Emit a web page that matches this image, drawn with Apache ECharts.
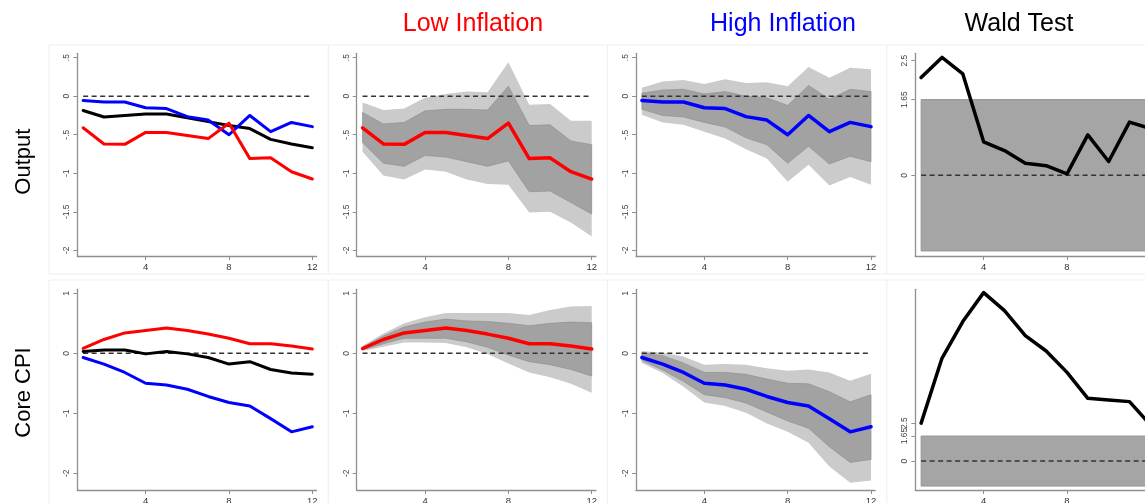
<!DOCTYPE html>
<html><head><meta charset="utf-8">
<script src="https://cdn.jsdelivr.net/npm/echarts@6/dist/echarts.min.js"></script>
<style>html,body{margin:0;padding:0;background:#fff}#c{width:1145px;height:503px}</style>
</head><body><div id="c"></div>
<script>
// ---------------- data ----------------
const horizons = [1,2,3,4,5,6,7,8,9,10,11,12];
const colTitles = ['Low Inflation','High Inflation','Wald Test'];
const rowTitles = ['Output','Core CPI'];
const xTicks = [4,8,12];
const yTicksOutput = [-2,-1.5,-1,-0.5,0,0.5];
const yTicksCPI = [-2,-1,0,1];
const yTicksWald = [0,1.65,2.5];
const waldCritical = 1.65;

// Output responses
const outAll  = [-0.185,-0.27,-0.25,-0.23,-0.23,-0.28,-0.33,-0.38,-0.42,-0.56,-0.62,-0.67];
const outLow  = [-0.41,-0.62,-0.625,-0.47,-0.47,-0.51,-0.55,-0.35,-0.81,-0.80,-0.98,-1.075];
const outHigh = [-0.055,-0.075,-0.075,-0.15,-0.16,-0.265,-0.31,-0.50,-0.25,-0.46,-0.34,-0.395];
const outLowOuterLo = [-0.72,-1.03,-1.08,-0.95,-0.98,-1.08,-1.14,-1.15,-1.51,-1.50,-1.64,-1.82];
const outLowOuterHi = [-0.08,-0.18,-0.16,-0.02,0.03,0.06,0.05,0.44,-0.11,-0.10,-0.32,-0.32];
const outLowInnerLo = [-0.60,-0.87,-0.91,-0.77,-0.79,-0.85,-0.91,-0.84,-1.24,-1.23,-1.38,-1.53];
const outLowInnerHi = [-0.21,-0.36,-0.34,-0.19,-0.17,-0.17,-0.18,0.13,-0.38,-0.37,-0.58,-0.63];
const outHighOuterLo = [-0.24,-0.34,-0.37,-0.46,-0.55,-0.69,-0.81,-1.11,-0.89,-1.16,-1.05,-1.15];
const outHighOuterHi = [0.11,0.19,0.21,0.16,0.22,0.17,0.18,0.13,0.38,0.24,0.37,0.35];
const outHighInnerLo = [-0.17,-0.25,-0.27,-0.34,-0.40,-0.54,-0.63,-0.87,-0.65,-0.88,-0.78,-0.85];
const outHighInnerHi = [0.04,0.08,0.09,0.03,0.06,0.00,-0.02,-0.12,0.14,-0.04,0.09,0.06];

// Core CPI responses
const cpiAll  = [0.03,0.055,0.055,-0.01,0.03,-0.01,-0.07,-0.18,-0.14,-0.27,-0.33,-0.35];
const cpiLow  = [0.08,0.23,0.34,0.38,0.42,0.38,0.32,0.25,0.16,0.16,0.12,0.07];
const cpiHigh = [-0.07,-0.18,-0.32,-0.50,-0.53,-0.60,-0.72,-0.82,-0.88,-1.09,-1.31,-1.225];
const cpiLowOuterLo = [0.04,0.11,0.18,0.18,0.17,0.10,-0.01,-0.17,-0.32,-0.40,-0.51,-0.66];
const cpiLowOuterHi = [0.12,0.33,0.50,0.60,0.67,0.67,0.67,0.67,0.64,0.72,0.78,0.79];
const cpiLowInnerLo = [0.055,0.16,0.25,0.25,0.25,0.19,0.10,-0.03,-0.14,-0.19,-0.27,-0.38];
const cpiLowInnerHi = [0.10,0.29,0.44,0.52,0.57,0.54,0.53,0.50,0.46,0.50,0.52,0.51];
const cpiHighOuterLo = [-0.16,-0.33,-0.56,-0.82,-0.88,-0.99,-1.17,-1.31,-1.49,-1.89,-2.16,-2.12];
const cpiHighOuterHi = [0.04,0.01,-0.055,-0.19,-0.18,-0.19,-0.25,-0.29,-0.27,-0.32,-0.46,-0.34];
const cpiHighInnerLo = [-0.12,-0.28,-0.47,-0.69,-0.74,-0.83,-0.98,-1.13,-1.25,-1.56,-1.82,-1.77];
const cpiHighInnerHi = [0.01,-0.04,-0.16,-0.32,-0.32,-0.35,-0.43,-0.50,-0.51,-0.64,-0.81,-0.69];

// Wald statistics
const waldOutput = [2.13,2.57,2.21,0.73,0.54,0.26,0.21,0.03,0.88,0.30,1.16,1.02];
const waldCPI    = [2.5,6.78,9.2,11.11,9.92,8.27,7.26,5.85,4.14,4.03,3.92,2.4];

// ---------------- chart ----------------
const FONT = '"Liberation Sans", Arial, Helvetica, sans-serif';
const RED = '#ff0000', BLUE = '#0000ff', BLACK = '#000000';
const colX = [77.3, 356.7, 636.0, 915.3];
const plotW = 239.2;
const rowsGeom = [{top:53.3, height:202.7}, {top:289.3, height:200.7}];
const yRangeIRF = [[-2.074, 0.557], [-2.28, 1.067]];
const yRangeWald = [[-1.76, 2.66], [-1.91, 11.33]];

const pts = arr => horizons.map((h,i)=>[h, arr[i]]);
const zeros = horizons.map(h=>[h,0]);

const grids=[], xAxes=[], yAxes=[], series=[];
const fmt = v => v===0 ? '0' : String(v).replace(/^(-?)0\./,'$1.');

function yAxisDef(gi, yTicks, yRange, showLine){
  return {type:'value', gridIndex:gi, min:yRange[0], max:yRange[1], position:'left', offset:0,
    axisLine:{show:showLine, onZero:false, lineStyle:{color:'#8f8f8f', width:1.3}},
    axisTick:{show:true, length:4, customValues:yTicks, lineStyle:{color:'#8f8f8f', width:1}},
    axisLabel:{customValues:yTicks, rotate:90, margin:6, fontSize:8.5, color:'#444', fontFamily:FONT,
      formatter:fmt, hideOverlap:false, interval:0},
    splitLine:{show:false}};
}
function addPanel(row, col, yTicks, yRange){
  const gi = grids.length;
  grids.push({left: colX[col], top: rowsGeom[row].top, width: plotW, height: rowsGeom[row].height,
    outerBoundsMode:'none', containLabel:false});
  xAxes.push({type:'value', gridIndex:gi, min:0.72, max:12.2,
    axisLine:{onZero:false, lineStyle:{color:'#8f8f8f', width:1.3}},
    axisTick:{show:true, length:4, customValues:xTicks, lineStyle:{color:'#8f8f8f', width:1}},
    axisLabel:{customValues:xTicks, margin:6, fontSize:9.5, color:'#333', fontFamily:FONT},
    splitLine:{show:false}});
  yAxes.push(yAxisDef(gi, yTicks, yRange, true));
  return {gi, yi: yAxes.length-1};
}
function line(p, data, color, width, z){
  series.push({type:'line', xAxisIndex:p.gi, yAxisIndex:p.yi, data, symbol:'none', silent:true, z:z||4,
    lineStyle:{color, width, cap:'round', join:'round'}});
}
function zero(p, extra){
  const s = {type:'line', xAxisIndex:p.gi, yAxisIndex:p.yi, data:zeros, symbol:'none', silent:true, z:3,
    lineStyle:{color:'#333', width:1.5, type:[5,3.5]}};
  Object.assign(s, extra||{});
  series.push(s);
}
function band(p, lo, hi, color, edge){
  series.push({type:'custom', xAxisIndex:p.gi, yAxisIndex:p.yi, silent:true, z:2,
    data:[[horizons[0], lo[0]]], encode:{x:0, y:1},
    renderItem:(params, api)=>{
      const up = horizons.map((h,i)=>api.coord([h, hi[i]]));
      const dn = horizons.map((h,i)=>api.coord([h, lo[i]])).reverse();
      return {type:'polygon', shape:{points: up.concat(dn)},
        style:{fill:color, stroke: edge ? '#8c8c8c' : null, lineWidth: edge ? 0.6 : 0}};
    }});
}
const waldArea = {markArea:{silent:true, itemStyle:{color:'#a5a5a5', borderColor:'#969696', borderWidth:1},
  data:[[{xAxis:1, yAxis:-waldCritical},{xAxis:12.3, yAxis:waldCritical}]]}};

// Row 1: Output
let p = addPanel(0,0,yTicksOutput,yRangeIRF[0]);
zero(p); line(p, pts(outAll), BLACK, 3); line(p, pts(outHigh), BLUE, 3); line(p, pts(outLow), RED, 3);
p = addPanel(0,1,yTicksOutput,yRangeIRF[0]);
band(p, outLowOuterLo, outLowOuterHi, '#cbcbcb', false); band(p, outLowInnerLo, outLowInnerHi, '#a2a2a2', true);
zero(p); line(p, pts(outLow), RED, 3.5);
p = addPanel(0,2,yTicksOutput,yRangeIRF[0]);
band(p, outHighOuterLo, outHighOuterHi, '#cbcbcb', false); band(p, outHighInnerLo, outHighInnerHi, '#a2a2a2', true);
zero(p); line(p, pts(outHigh), BLUE, 3.5);
p = addPanel(0,3,yTicksWald,yRangeWald[0]);
zero(p, waldArea);
line(p, pts(waldOutput), BLACK, 3.5);

// Row 2: Core CPI
p = addPanel(1,0,yTicksCPI,yRangeIRF[1]);
zero(p); line(p, pts(cpiAll), BLACK, 3); line(p, pts(cpiHigh), BLUE, 3); line(p, pts(cpiLow), RED, 3);
p = addPanel(1,1,yTicksCPI,yRangeIRF[1]);
band(p, cpiLowOuterLo, cpiLowOuterHi, '#cbcbcb', false); band(p, cpiLowInnerLo, cpiLowInnerHi, '#a2a2a2', true);
zero(p); line(p, pts(cpiLow), RED, 3.5);
p = addPanel(1,2,yTicksCPI,yRangeIRF[1]);
band(p, cpiHighOuterLo, cpiHighOuterHi, '#cbcbcb', false); band(p, cpiHighInnerLo, cpiHighInnerHi, '#a2a2a2', true);
zero(p); line(p, pts(cpiHigh), BLUE, 3.5);
p = addPanel(1,3,[0,1.65],yRangeWald[1]);
// second, line-less y axis in the same grid carrying the overlapping 2.5 tick
yAxes.push(yAxisDef(p.gi, [2.5], yRangeWald[1], false));
zero(p, waldArea);
line(p, pts(waldCPI), BLACK, 3.5);

// graphics: panel boxes, titles, row labels
const graphic = [];
const boxX = [49, 328.3, 607.6, 886.9];
const boxY = [[45, 274], [280, 509]];
for (let r=0;r<2;r++) for (let c=0;c<4;c++){
  graphic.push({type:'rect', z:-10, silent:true,
    shape:{x:boxX[c], y:boxY[r][0], width:279.3, height:boxY[r][1]-boxY[r][0]},
    style:{fill:'#ffffff', stroke:'#efefef', lineWidth:1}});
}
const titleX = [473, 783, 1019];
const titleColors = [RED, BLUE, BLACK];
colTitles.forEach((t,i)=>graphic.push({type:'text', silent:true, x:titleX[i], y:24,
  style:{text:t, fill:titleColors[i], font:'25px '+FONT, align:'center', verticalAlign:'middle'}}));
const rowY = [161.7, 392.5];
rowTitles.forEach((t,i)=>graphic.push({type:'text', silent:true, x:24, y:rowY[i], rotation:Math.PI/2,
  style:{text:t, fill:'#000', font:'22px '+FONT, align:'center', verticalAlign:'middle'}}));

const chart = echarts.init(document.getElementById('c'), null, {renderer:'canvas'});
chart.setOption({
  animation:false, backgroundColor:'#ffffff',
  textStyle:{fontFamily:FONT},
  grid:grids, xAxis:xAxes, yAxis:yAxes, series, graphic
});
</script></body></html>
